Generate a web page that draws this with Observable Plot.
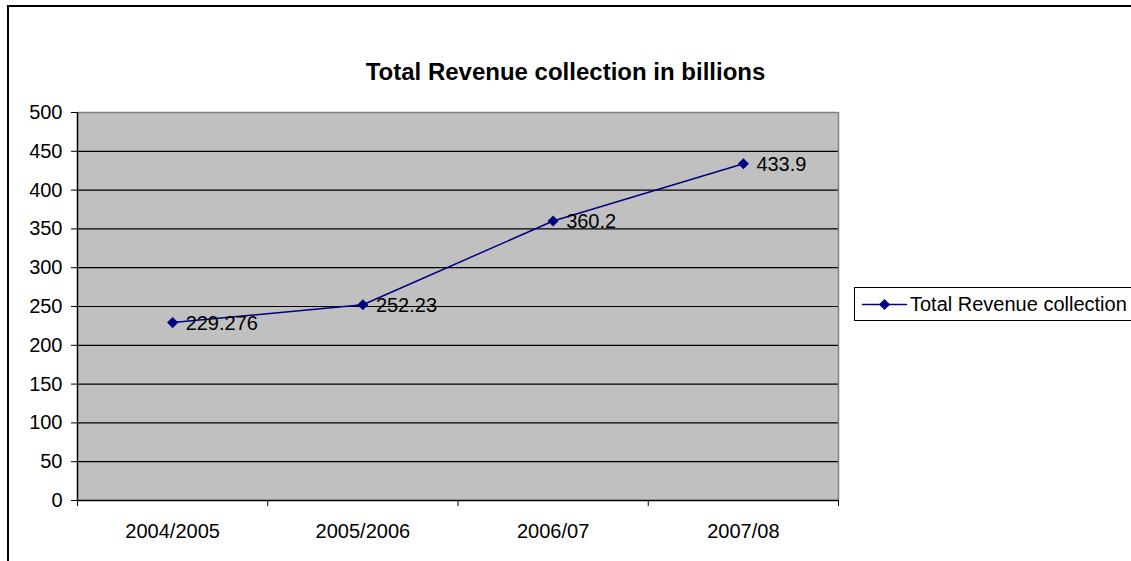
<!DOCTYPE html>
<html>
<head>
<meta charset="utf-8">
<script src="https://cdn.jsdelivr.net/npm/d3@7"></script>
<script src="https://cdn.jsdelivr.net/npm/@observablehq/plot@0.6"></script>
<style>
  html, body { margin: 0; padding: 0; background: #fff; overflow: hidden; }
  #wrap { position: relative; width: 1131px; height: 561px; overflow: hidden; font-family: Arial, "Liberation Sans", sans-serif; }
  #border { position: absolute; left: 7px; top: 5px; width: 1300px; height: 700px; border: 2px solid #000; box-sizing: border-box; }
  #title { position: absolute; left: 0; top: 58px; width: 1131px; text-align: center; font-weight: bold; font-size: 24px; color: #000; }
  #legend { position: absolute; left: 854px; top: 287px; width: 320px; height: 34px; border: 1px solid #000; box-sizing: border-box; background: #fff; }
  #legend svg { position: absolute; left: 0; top: 0; }
  #legend span { position: absolute; left: 55px; top: 5px; font-size: 20px; line-height: 23px; color: #000; white-space: nowrap; }
  #chart { position: absolute; left: 0; top: 0; }
</style>
</head>
<body>
<div id="wrap">
  <div id="border"></div>
  <div id="chart"></div>
  <div id="title"></div>
  <div id="legend"></div>
</div>
<script>
const chartTitle = "Total Revenue collection in billions";
const seriesName = "Total Revenue collection";
const categories = ["2004/2005", "2005/2006", "2006/07", "2007/08"];
const revenue = [229.276, 252.23, 360.2, 433.9];
const valueLabels = ["229.276", "252.23", "360.2", "433.9"];
const yTicks = [0, 50, 100, 150, 200, 250, 300, 350, 400, 450, 500];

const navy = "#000080";
const data = categories.map((c, i) => ({cat: c, pos: i + 0.5, value: revenue[i], label: valueLabels[i]}));
const boundaries = d3.range(categories.length + 1);
const centers = categories.map((c, i) => i + 0.5);

const chart = Plot.plot({
  width: 1131,
  height: 561,
  marginLeft: 77,
  marginRight: 293,
  marginTop: 112,
  marginBottom: 61,
  style: {fontFamily: "Arial, 'Liberation Sans', sans-serif", fontSize: "20px", color: "#000", background: "transparent"},
  x: {domain: [0, categories.length]},
  y: {domain: [0, 500]},
  marks: [
    Plot.frame({fill: "#c0c0c0", stroke: "none"}),
    Plot.ruleY(yTicks.filter(v => v > 0 && v < 500), {stroke: "#000", strokeWidth: 1.2}),
    Plot.ruleY([500], {stroke: "#808080", strokeWidth: 1.5}),
    Plot.ruleX([categories.length], {stroke: "#808080", strokeWidth: 1.5}),
    Plot.ruleY([0], {stroke: "#000", strokeWidth: 1.5}),
    Plot.ruleX([0], {stroke: "#000", strokeWidth: 1.5}),
    Plot.axisY({ticks: yTicks, tickSize: 6, tickPadding: 9, label: null, fontSize: 20, stroke: "#000"}),
    Plot.axisX({ticks: boundaries, tickSize: 6, tickFormat: () => "", label: null, stroke: "#000"}),
    Plot.axisX({ticks: centers, tickSize: 0, tickPadding: 23, tickFormat: d => categories[Math.floor(d)], label: null, fontSize: 20}),
    Plot.line(data, {x: "pos", y: "value", stroke: navy, strokeWidth: 1.5}),
    Plot.dot(data, {x: "pos", y: "value", symbol: "diamond2", r: 5, fill: navy, stroke: "none"}),
    Plot.text(data, {x: "pos", y: "value", text: "label", textAnchor: "start", dx: 13, dy: 1, fontSize: 20, fill: "#000"})
  ]
});
document.getElementById("chart").appendChild(chart);
document.getElementById("title").textContent = chartTitle;

// Legend
const legend = document.getElementById("legend");
const key = Plot.plot({
  width: 56, height: 32, margin: 0,
  x: {domain: [0, 1], range: [7, 51]}, y: {domain: [0, 1], range: [16, 16]},
  axis: null,
  style: {background: "transparent"},
  marks: [
    Plot.line([{x: 0, y: 0}, {x: 1, y: 0}], {x: "x", y: "y", stroke: navy, strokeWidth: 1.5}),
    Plot.dot([{x: 0.5, y: 0}], {x: "x", y: "y", symbol: "diamond2", r: 5, fill: navy, stroke: "none"})
  ]
});
legend.appendChild(key);
const span = document.createElement("span");
span.textContent = seriesName;
legend.appendChild(span);
</script>
</body>
</html>
